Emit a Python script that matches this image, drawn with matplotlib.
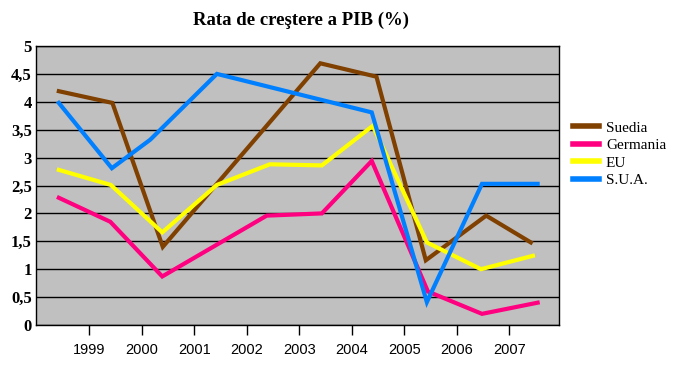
import matplotlib
matplotlib.use("Agg")
import matplotlib.pyplot as plt
from matplotlib.ticker import FuncFormatter

title = "Rata de creştere a PIB (%)"
years = [1999, 2000, 2001, 2002, 2003, 2004, 2005, 2006, 2007]

suedia_x = [1998.42, 1999.44, 2000.40, 2003.40, 2004.47, 2005.41, 2006.56, 2007.41]
suedia_y = [4.19, 3.98, 1.40, 4.69, 4.45, 1.16, 1.96, 1.48]

germania_x = [1998.42, 1999.40, 2000.39, 2002.38, 2003.43, 2004.38, 2005.45, 2006.48, 2007.54]
germania_y = [2.28, 1.85, 0.87, 1.96, 2.00, 2.94, 0.60, 0.20, 0.40]

eu_x = [1998.42, 1999.41, 2000.39, 2001.43, 2002.44, 2003.43, 2004.40, 2005.43, 2006.46, 2007.45]
eu_y = [2.78, 2.51, 1.66, 2.51, 2.88, 2.86, 3.57, 1.48, 1.00, 1.24]

sua_x = [1998.42, 1999.43, 2000.16, 2001.43, 2004.38, 2005.43, 2006.48, 2007.54]
sua_y = [3.98, 2.81, 3.32, 4.50, 3.81, 0.41, 2.53, 2.53]

series = [
    ("Suedia", suedia_x, suedia_y, "#804000"),
    ("Germania", germania_x, germania_y, "#FF0080"),
    ("EU", eu_x, eu_y, "#FFFF00"),
    ("S.U.A.", sua_x, sua_y, "#0080FF"),
]

fig = plt.figure(figsize=(6.76, 3.70), dpi=100)
ax = fig.add_axes([36/676, 1-325/370, (559-36)/676, (325-46)/370])
ax.set_facecolor("#C0C0C0")

handles = []
for name, xs, ys, c in series:
    h, = ax.plot(xs, ys, color=c, lw=3, solid_joinstyle="miter", label=name, zorder=3)
    handles.append(h)

ax.set_xlim(1997.985, 2007.947)
ax.set_ylim(0, 5)
ax.set_yticks([i * 0.5 for i in range(11)])
ax.yaxis.set_major_formatter(FuncFormatter(lambda v, p: ("%g" % v).replace(".", ",")))
ax.set_xticks(years)
ax.set_xticklabels([str(y) for y in years])
ax.grid(axis="y", color="black", lw=1, zorder=1)
ax.set_axisbelow(True)
for s in ax.spines.values():
    s.set_color("black")
    s.set_linewidth(1)

ax.tick_params(axis="y", length=0, pad=3)
ax.tick_params(axis="x", length=7.2, width=1, direction="out", pad=5.5)
for lab in ax.get_yticklabels():
    lab.set_fontfamily("Liberation Serif")
    lab.set_fontweight("bold")
    lab.set_fontsize(12)
for lab in ax.get_xticklabels():
    lab.set_fontfamily("Liberation Sans")
    lab.set_fontsize(10.5)

fig.text(301/676, 1-20/370, title, ha="center", va="center",
         fontfamily="Liberation Serif", fontweight="bold", fontsize=13.5)

leg = fig.legend(handles=handles, loc="center left", bbox_to_anchor=(567/676, 1-154/370),
                 frameon=False, prop={"family": "Liberation Serif", "size": 11},
                 handlelength=1.7, handletextpad=0.45, labelspacing=0.25, borderaxespad=0)
for l in leg.get_lines():
    l.set_linewidth(4)

fig.savefig("out.png", dpi=100, facecolor="white")
